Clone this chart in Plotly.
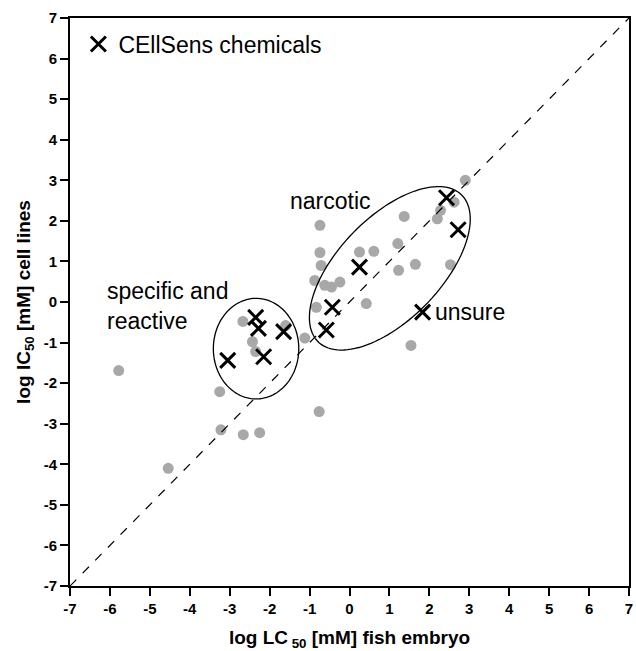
import numpy as np
import plotly.graph_objects as go

# Gray points: all chemicals (log LC50 fish embryo, log IC50 cell lines)
all_x = [-5.78, -4.54, -3.25, -3.22, -2.66, -2.25, -2.67, -2.43, -2.35, -1.60,
         -1.12, -0.76, -0.74, -0.74, -0.71, -0.87, -0.62, -0.45, -0.24, -0.83,
         0.25, 0.61, 0.42, 1.21, 1.23, 1.65, 1.37, 2.20, 2.28, 2.62,
         2.53, 2.90, 1.54]
all_y = [-1.69, -4.10, -2.21, -3.15, -3.27, -3.22, -0.48, -0.98, -1.22, -0.58,
         -0.89, -2.70, 1.89, 1.22, 0.90, 0.53, 0.41, 0.37, 0.49, -0.13,
         1.23, 1.25, -0.04, 1.44, 0.78, 0.93, 2.11, 2.05, 2.26, 2.46,
         0.92, 3.00, -1.07]

# CEllSens chemicals (crosses)
cs_x = [-2.35, -2.28, -1.65, -3.05, -2.15, 2.43, 2.72, 0.25, -0.43, -0.58, 1.83]
cs_y = [-0.38, -0.65, -0.73, -1.44, -1.35, 2.57, 1.78, 0.86, -0.13, -0.69, -0.25]

tick_vals = list(range(-7, 8))

# Ellipse annotations: (center x, center y, semi-axis a, semi-axis b, angle deg)
narcotic_ellipse = (1.01, 0.83, 2.55, 1.27, 45)
specific_ellipse = (-2.34, -1.15, 1.07, 1.24, 0)


def ellipse_path(cx, cy, a, b, ang):
    t = np.linspace(0, 2 * np.pi, 120)
    th = np.deg2rad(ang)
    xs = cx + a * np.cos(t) * np.cos(th) - b * np.sin(t) * np.sin(th)
    ys = cy + a * np.cos(t) * np.sin(th) + b * np.sin(t) * np.cos(th)
    p = "M " + " L ".join(f"{x:.4f},{y:.4f}" for x, y in zip(xs, ys)) + " Z"
    return p


fig = go.Figure()
fig.add_trace(go.Scatter(
    x=all_x, y=all_y, mode="markers", showlegend=False,
    marker=dict(color="#a8a8a8", size=11, line=dict(width=0)),
))
fig.add_trace(go.Scatter(
    x=cs_x, y=cs_y, mode="markers", name="CEllSens chemicals",
    marker=dict(symbol="x-thin-open", color="black", size=15,
                line=dict(width=3, color="black")),
))

font_family = "Liberation Sans, Arial, sans-serif"
label_size = 23

shapes = [
    dict(type="line", x0=-7, y0=-7, x1=7, y1=7, xref="x", yref="y",
         line=dict(color="black", width=1.2, dash="dash")),
]
for e in (narcotic_ellipse, specific_ellipse):
    shapes.append(dict(type="path", path=ellipse_path(*e), xref="x", yref="y",
                       line=dict(color="black", width=1.3)))

annotations = [
    dict(x=-0.47, y=2.5, text="narcotic", showarrow=False, xref="x", yref="y",
         font=dict(size=label_size, color="black", family=font_family)),
    dict(x=-6.12, y=-0.11, text="specific and<br>reactive", showarrow=False,
         xref="x", yref="y", xanchor="left", align="left",
         font=dict(size=label_size, color="black", family=font_family)),
    dict(x=2.1, y=-0.24, text="unsure", showarrow=False, xref="x", yref="y",
         xanchor="left",
         font=dict(size=label_size, color="black", family=font_family)),
]

axis_common = dict(
    range=[-7, 7], tickvals=tick_vals, ticktext=[str(v) for v in tick_vals],
    showgrid=False, zeroline=False, showline=True, linecolor="black",
    linewidth=2, mirror=True, ticks="outside", ticklen=8, tickwidth=2,
    tickcolor="black",
    tickfont=dict(size=15, color="black", family="Liberation Sans, Arial", weight="bold"),
)

fig.update_layout(
    width=636, height=651,
    margin=dict(l=70, r=3, t=18, b=65),
    paper_bgcolor="white", plot_bgcolor="white",
    shapes=shapes, annotations=annotations,
    xaxis=dict(**axis_common,
               title=dict(text="<b>log LC<sub> 50</sub> [mM] fish embryo</b>",
                          font=dict(size=19, color="black", family=font_family),
                          standoff=18)),
    yaxis=dict(**axis_common,
               title=dict(text="<b>log IC<sub>50</sub> [mM] cell lines</b>",
                          font=dict(size=19, color="black", family=font_family),
                          standoff=8)),
    legend=dict(x=0.015, y=0.992, xanchor="left", yanchor="top",
                bgcolor="rgba(0,0,0,0)", borderwidth=0,
                font=dict(size=label_size, color="black", family=font_family)),
)

fig.write_html("out.html")
